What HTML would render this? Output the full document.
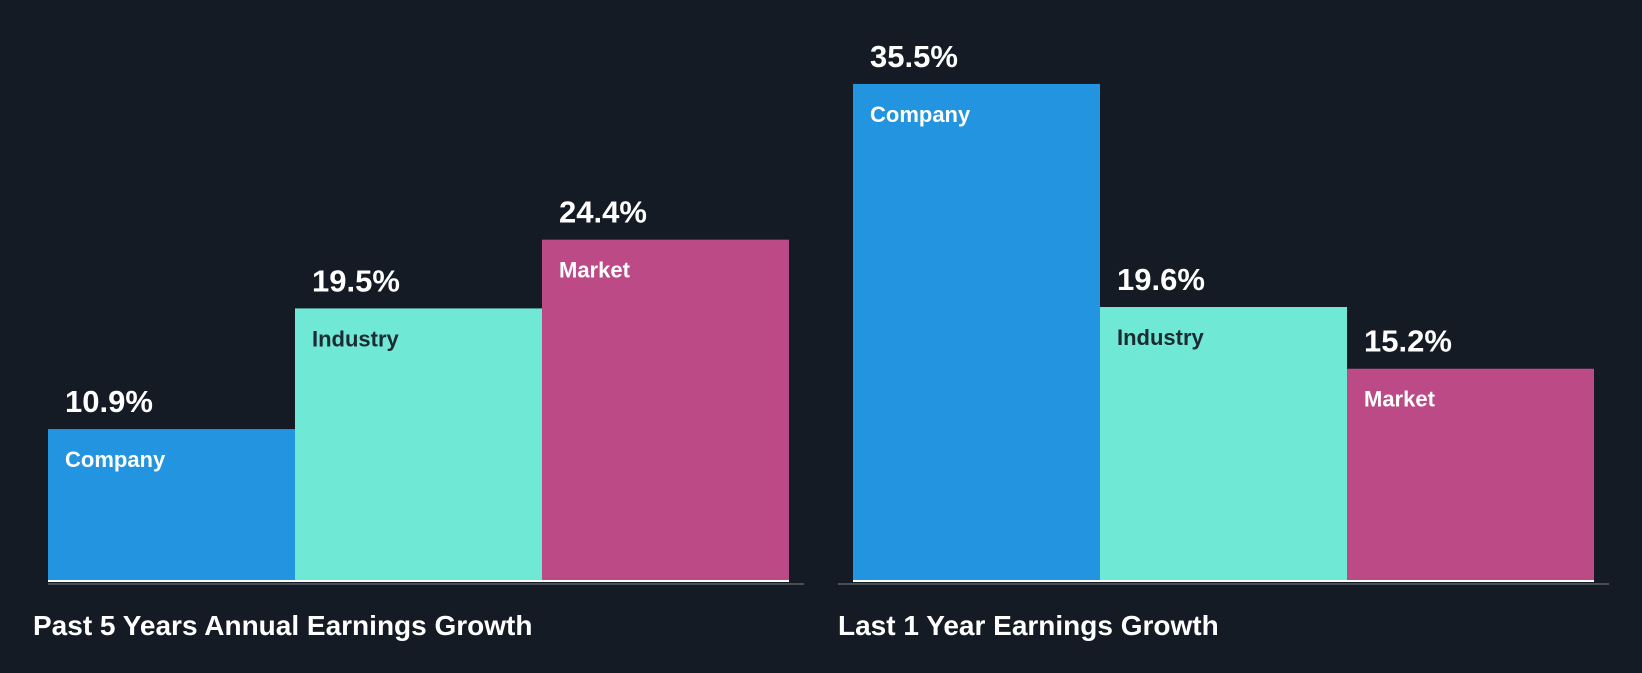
<!DOCTYPE html>
<html><head><meta charset="utf-8"><style>
html,body{margin:0;padding:0;background:#151b24;}
svg text{font-family:"Liberation Sans",sans-serif;font-weight:bold;}
</style></head><body>
<svg id="chart" width="1642" height="668" viewBox="0 0 1642 668" xmlns="http://www.w3.org/2000/svg">
<rect width="1642" height="668" fill="#151b24"/>
</svg>
<script>
const categories = ["Company", "Industry", "Market"];
const panelTitles = ["Past 5 Years Annual Earnings Growth", "Last 1 Year Earnings Growth"];
const past5Values = [10.9, 19.5, 24.4];
const last1Values = [35.5, 19.6, 15.2];
const valueLabels = [["10.9%", "19.5%", "24.4%"], ["35.5%", "19.6%", "15.2%"]];

const colors = ["#2394df", "#70e8d6", "#bb4a86"];
const labelColors = ["#ffffff", "#1b2a33", "#ffffff"];
const svg = document.getElementById('chart');
const NS = "http://www.w3.org/2000/svg";
const baseY = 582, pxPer = 14.03;
function y(v){ return baseY - v * pxPer; }
const panels = [{x0:48, w:247, vals:past5Values, axisL:48, axisR:804},
                {x0:853, w:247, vals:last1Values, axisL:838, axisR:1609}];
function mk(tag, attrs, txt){
  const e = document.createElementNS(NS, tag);
  for (const k in attrs) e.setAttribute(k, attrs[k]);
  if (txt !== undefined) e.textContent = txt;
  svg.appendChild(e); return e;
}
panels.forEach((p, pi) => {
  const axis = mk('rect', {x:p.axisL, y:baseY+1, width:p.axisR-p.axisL, height:2, fill:'#4a4f57'});
  
  
  p.vals.forEach((v, i) => {
    const x = p.x0 + i * p.w;
    const top = y(v);
    const bar = mk('rect', {x:x, y:top, width:p.w, height:baseY - top, fill:colors[i]});
    
    
    const strip = mk('rect', {x:x, y:baseY-2, width:p.w, height:2, fill:'#ffffff'});
    
    
    const vl = mk('text', {x:x+17, y:top-17, fill:'#ffffff', 'font-size':31}, valueLabels[pi][i]);
    
    
    const cl = mk('text', {x:x+17, y:top+38, fill:labelColors[i], 'font-size':22}, categories[i]);
    
    
  });
  const t = mk('text', {x:p.axisL - (pi===0?15:0), y:635, fill:'#ffffff', 'font-size':28}, panelTitles[pi]);
  
  
});
</script>
</body></html>
